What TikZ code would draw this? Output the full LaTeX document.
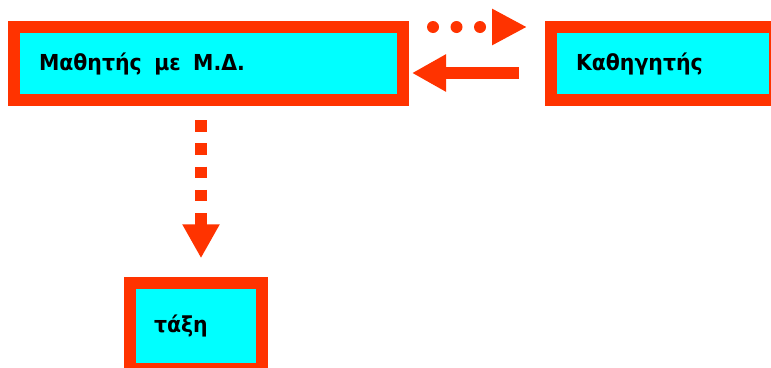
\documentclass[tikz,border=0pt]{standalone}
\usepackage{fontspec}
\newfontfamily\lblfont{DejaVu Sans}[FakeStretch=0.93]
\usetikzlibrary{arrows.meta}
\definecolor{bred}{RGB}{255,51,0}
\definecolor{bcyan}{RGB}{0,255,255}
\tikzset{
  box/.style={draw=bred, fill=bcyan, line width=12pt, rectangle, inner ysep=0pt,
    inner xsep=25pt, align=left, font=\lblfont\bfseries\fontsize{22}{26}\selectfont},
  dotline/.style={draw=bred, line width=12pt, line cap=round, dash pattern=on 0pt off 23.5pt,
    -{Triangle[length=35pt,width=34pt]}},
  dashline/.style={draw=bred, line width=12pt, dash pattern=on 11.5pt off 11.8pt,
    -{Triangle[length=34pt,width=35pt]}},
  solidline/.style={draw=bred, line width=12pt,
    -{Triangle[length=34pt,width=35pt]}}
}
\begin{document}
\begin{tikzpicture}[x=1pt,y=-1pt]
\useasboundingbox (0,0) rectangle (771,367);
\clip (0,0) rectangle (771,367);
\node[box, minimum width=389pt, minimum height=73pt, text width=339pt] (m) at (208.5,63.5) {\spaceskip=12.5pt Μαθητής με Μ.Δ.};
\node[box, minimum width=224pt, minimum height=73pt, text width=174pt] (k) at (663,63.5) {Καθηγητής};
\node[box, minimum width=132.5pt, minimum height=85.5pt, text width=84pt, inner xsep=24pt] (t) at (196,326) {τάξη};
\draw[dotline] ([shift={(24,6)}]m.north east) -- ([shift={(-18,6)}]k.north west);
\draw[solidline] ([shift={(-26,9.5)}]k.west) -- ([shift={(3,9.5)}]m.east);
\draw[dashline] ([shift={(-7.5,14)}]m.south) -- ([shift={(5,-19)}]t.north);
\end{tikzpicture}
\end{document}
